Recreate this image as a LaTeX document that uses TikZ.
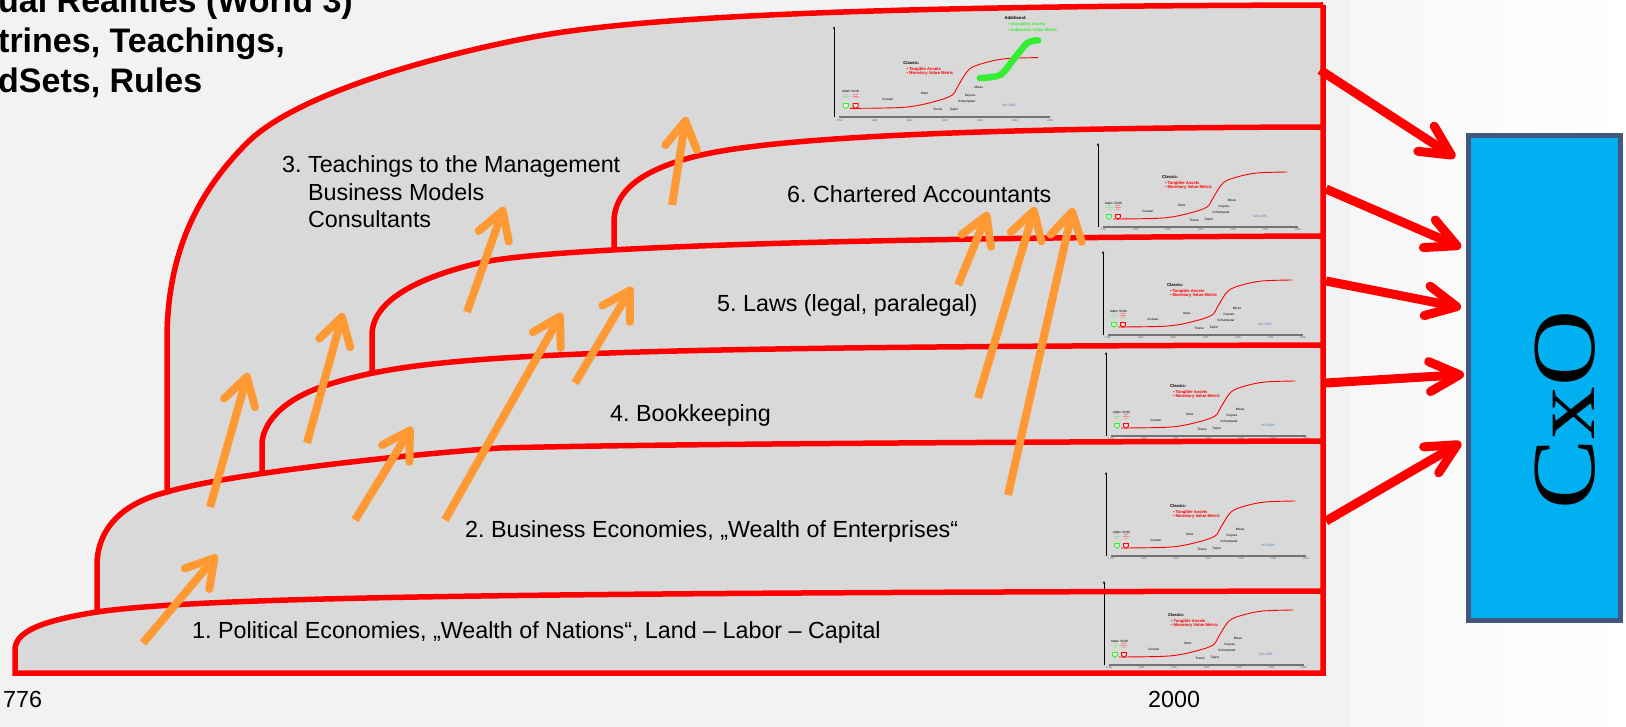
\documentclass[tikz,border=0pt]{standalone}
\usepackage{fontspec}
\setmainfont{Liberation Sans}
\newfontfamily\cxofont{Liberation Serif}
\usetikzlibrary{arrows.meta,calc}
\frenchspacing
\definecolor{bgl}{HTML}{F2F2F2}
\definecolor{layerc}{HTML}{D9D9D9}
\definecolor{redl}{HTML}{FF0000}
\definecolor{orangea}{HTML}{FF9933}
\definecolor{cxofill}{HTML}{00B0F0}
\definecolor{cxoborder}{HTML}{44587F}
\definecolor{greent}{HTML}{33EE33}
\definecolor{bluet}{HTML}{4F81BD}
\tikzset{
  redline/.style={draw=redl, line width=5.5pt},
  orangearrow/.style={draw=orangea, line width=8pt, -{Straight Barb[length=27pt,width=32pt,round]}},
  redarrow/.style={draw=redl, line width=9pt, -{Straight Barb[length=30pt,width=30pt,round]}},
  lbl/.style={inner sep=0pt, anchor=base west, font=\fontsize{23.3}{27.5}\selectfont},
  titlelbl/.style={inner sep=0pt, anchor=base west, font=\bfseries\fontsize{34}{40}\selectfont},
  ticklbl/.style={inner sep=0pt, text=black!65, font=\fontsize{2.6}{2.8}\selectfont},
  chhead/.style={inner sep=0pt, anchor=west, font=\bfseries\fontsize{4.2}{4.6}\selectfont},
  chbullet/.style={inner sep=0pt, anchor=west, text=redl, font=\bfseries\fontsize{4.2}{4.6}\selectfont},
  chname/.style={inner sep=0pt, font=\fontsize{3.2}{3.6}\selectfont},
  chtiny/.style={inner sep=0pt, align=center, font=\fontsize{1.6}{1.8}\selectfont},
  chicon/.style={line width=1pt, fill=white},
  cxobox/.style={draw=cxoborder, fill=cxofill, line width=5pt, inner sep=0pt},
}
\newcommand{\minichart}[4]{%
\begin{scope}[shift={(#2,#3)},scale=#4]
  \draw[line width=0.8pt,-{Stealth[length=3pt,width=2.4pt]}] (0,0) -- (0,-84);
  \draw[draw=black!55,line width=1.1pt] (5,0) -- (200,0);
  \foreach \yr [count=\i from 0] in {1750,1800,1850,1900,1950,2000,2050}{
    \node[ticklbl] (#1-y\i) at ({5+32.5*\i},3) {\yr};}
  \draw[draw=redl,line width=0.9pt] plot[smooth,tension=0.55] coordinates {(15,-8) (65,-9) (92,-14) (109,-20) (115,-29) (125,-44) (139,-50) (159,-54) (189,-55)};
  \node[chhead] (#1-classic) at (64,-50) {Classic:};
  \node[chbullet] (#1-tang) at (67,-44) {•\hspace{1pt}Tangible Assets};
  \node[chbullet] (#1-mon) at (67,-40) {•\hspace{1pt}Monetary Value Metric};
  \node[chname] (#1-smith) at (15.5,-24) {Adam Smith};
  \node[chtiny,text=greent] (#1-moral) at (11,-19) {Moral\\Sentiments\\1759};
  \node[chtiny,text=redl] (#1-wealth) at (20,-19) {Wealth\\of Nations\\1776};
  \draw[chicon,draw=greent] (8.7,-12.3) -- (13.3,-12.3) -- (13.3,-9.6) -- (11,-7.8) -- (8.7,-9.6) -- cycle;
  \draw[chicon,draw=redl] (17.7,-12.3) -- (22.3,-12.3) -- (22.3,-9.6) -- (20,-7.8) -- (17.7,-9.6) -- cycle;
  \node[chname] (#1-gossen) at (50,-16) {Gossen};
  \node[chname] (#1-marx) at (84,-22) {Marx};
  \node[chname] (#1-towne) at (96,-7) {Towne};
  \node[chname] (#1-taylor) at (111,-7) {Taylor};
  \node[chname] (#1-schump) at (123,-14) {Schumpeter};
  \node[chname] (#1-keynes) at (126,-20) {Keynes};
  \node[chname] (#1-mises) at (134,-27) {Mises};
  \node[chname,text=bluet] (#1-ws) at (162,-11) {WS 2005};
\end{scope}}
\begin{document}
\begin{tikzpicture}[x=1pt,y=-1pt]
\useasboundingbox (0,0) rectangle (1626,727);
% background
\fill[bgl] (0,0) rectangle (1351,727);
\shade[left color=black!3, right color=white] (1351,0) rectangle (1626,727);
% gray union of layers
\fill[layerc] (15,673) -- (15,650) .. controls (15,632) and (40,621) .. (97,612)
  -- (97,565) .. controls (97,535) and (115,505) .. (167,492)
  -- (167,340) .. controls (167,250) and (200,190) .. (247,143)
  .. controls (300,90) and (453,52) .. (533,37)
  .. controls (650,15) and (900,6) .. (1323,5) -- (1323,673) -- cycle;
% small charts
\minichart{c0}{834}{117}{1.08}
\begin{scope}[shift={(834,117)},scale=1.08]
  \draw[draw=greent, line width=6.5pt, line cap=round] plot[smooth] coordinates {(135,-36) (154,-39) (166,-53) (179,-68.5) (189,-71)};
  \node[chhead] (c0-add) at (157.7,-91.7) {Additional:};
  \node[chbullet,text=greent] (c0-intang) at (161,-85.8) {•\hspace{1pt}Intangible Assets};
  \node[chbullet,text=greent] (c0-subj) at (161,-80.3) {•\hspace{1pt}Subjective Value Metric};
\end{scope}
\minichart{c6}{1098}{227}{1}
\minichart{c5}{1103}{335}{1}
\minichart{c4}{1106}{436}{1}
\minichart{c2}{1106}{556}{1}
\minichart{c1}{1104}{665}{1}
% red layer lines
\draw[redline] (1323,5) -- (1323,673) -- (15,673) -- (15,650)
  .. controls (15,632) and (40,621) .. (97,612)
  .. controls (200,597) and (500,593) .. (1323,591);
\draw[redline] (97,612) -- (97,565) .. controls (97,535) and (115,505) .. (167,492)
  .. controls (227,474) and (400,455) .. (500,448)
  .. controls (650,444) and (1000,442) .. (1323,441);
\draw[redline] (167,492) -- (167,340) .. controls (167,250) and (200,190) .. (247,143)
  .. controls (300,90) and (453,52) .. (533,37)
  .. controls (650,15) and (900,6) .. (1323,5);
\draw[redline] (262,473) -- (262,445) .. controls (262,425) and (280,400) .. (327,385)
  .. controls (420,355) and (550,347) .. (1323,345);
\draw[redline] (372,373) -- (372,335) .. controls (372,300) and (420,277) .. (479,263)
  .. controls (530,251) and (750,238) .. (1323,236);
\draw[redline] (614,250) -- (614,222) .. controls (614,195) and (635,172) .. (693,157)
  .. controls (750,142) and (900,128) .. (1323,127);
% orange arrows
\draw[orangearrow] (143,643) -- (217,555);
\draw[orangearrow] (210,507) -- (248,373);
\draw[orangearrow] (307,443) -- (343,313);
\draw[orangearrow] (355,520) -- (412,427);
\draw[orangearrow] (445,520) -- (562,313);
\draw[orangearrow] (575,383) -- (632,287);
\draw[orangearrow] (467,312) -- (504,207);
\draw[orangearrow] (672,205) -- (686,117);
\draw[orangearrow] (958,285) -- (988,212);
\draw[orangearrow] (978,398) -- (1035,207);
\draw[orangearrow] (1008,495) -- (1073,208);
% labels
\node[lbl] (l1) at (192,638) {1. Political Economies, „Wealth of Nations“, Land – Labor – Capital};
\node[lbl] (l2) at (465,537) {2. Business Economies, „Wealth of Enterprises“};
\node[lbl] (l3) at (282,173) {\begin{tabular}[t]{@{}l@{\ }l@{}}3.&Teachings to the Management\\&Business Models\\&Consultants\end{tabular}};
\node[lbl] (l4) at (610,421) {4. Bookkeeping};
\node[lbl] (l5) at (717,312) {5. Laws (legal, paralegal)};
\node[lbl] (l6) at (787,203) {6. Chartered Accountants};
\node[titlelbl] (title) at (-2,13) {\begin{tabular}[t]{@{}l@{}}ual Realities (World 3)\\trines, Teachings,\\dSets, Rules\end{tabular}};
\node[lbl] (y1776) at (3,707) {776};
\node[lbl] (y2000) at (1148,707) {2000};
% CxO
\node[cxobox, minimum width=152pt, minimum height=484pt] (cxo) at (1544.5,378) {};
\node[rotate=90, xscale=1.17, inner sep=0pt, font=\cxofont\fontsize{90}{90}\selectfont] (cxotxt) at (1565,410) {CxO};
\coordinate (s1) at (1320,70);
\coordinate (s2) at (1326,189);
\coordinate (s3) at (1326,281);
\coordinate (s4) at (1326,383);
\coordinate (s5) at (1326,521);
\draw[redarrow] (s1) -- ($(cxo.north west)+(-11,24)$);
\draw[redarrow] (s2) -- ($(cxo.north west)+(-5,114)$);
\draw[redarrow] (s3) -- ($(cxo.north west)+(-5,174)$);
\draw[redarrow] (s4) -- ($(cxo.north west)+(-2,241)$);
\draw[redarrow] (s5) -- ($(cxo.north west)+(-5,309)$);
\end{tikzpicture}
\end{document}
